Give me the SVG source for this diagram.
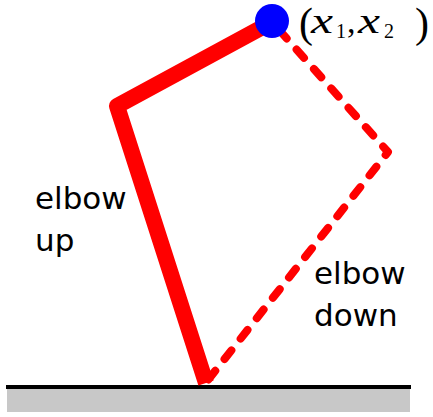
<svg xmlns="http://www.w3.org/2000/svg" width="433" height="417" viewBox="0 0 433 417">
<style>
.lbl{font-family:"DejaVu Sans","Liberation Sans",sans-serif;font-size:31px;fill:#000}
.m{font-family:"Liberation Serif","DejaVu Serif",serif;fill:#000}
.arm{fill:none;stroke:#ff0000;stroke-linejoin:round}
</style>
<rect width="433" height="417" fill="#fff"/>
<g id="ground">
<rect x="7" y="389" width="403" height="23" fill="#c8c8c8"/>
<line x1="6" y1="387" x2="411" y2="387" stroke="#000" stroke-width="4"/>
</g>
<g id="connectors">
<polyline class="arm" points="272,22 388,152 208,380" stroke-width="8" stroke-linecap="round" stroke-dasharray="11 15" stroke-dashoffset="15"/>
<polyline class="arm" points="206,383 117,106 272,22" stroke-width="16" stroke-linecap="butt"/>
</g>
<g id="end-effector">
<circle cx="272" cy="21" r="17" fill="#0000ff"/>
<text class="m" x="299" y="37" font-size="42">(</text>
<text class="m" x="311" y="33" font-size="36" font-style="italic" textLength="22" lengthAdjust="spacingAndGlyphs">x</text>
<text class="m" x="336" y="38" font-size="20">1</text>
<text class="m" x="347" y="33" font-size="34">,</text>
<text class="m" x="358" y="33" font-size="36" font-style="italic" textLength="22" lengthAdjust="spacingAndGlyphs">x</text>
<text class="m" x="384" y="38" font-size="20">2</text>
<text class="m" x="415" y="37" font-size="42">)</text>
</g>
<g id="label-up">
<text class="lbl" x="35" y="209">elbow</text>
<text class="lbl" x="35" y="251">up</text>
</g>
<g id="label-down">
<text class="lbl" x="314" y="284">elbow</text>
<text class="lbl" x="314" y="326">down</text>
</g>
</svg>
